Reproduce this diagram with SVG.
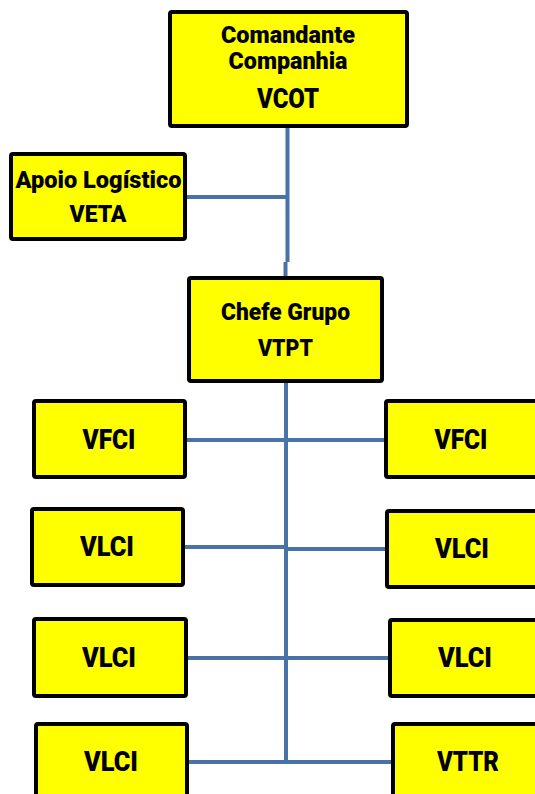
<svg xmlns="http://www.w3.org/2000/svg" width="535" height="794" viewBox="0 0 535 794">
<style>
.box{fill:#FFFF00;stroke:#000;stroke-width:4;}
.t{font-family:Roboto,"Liberation Sans",sans-serif;font-weight:900;fill:#000;text-anchor:middle;}
.s{font-size:23.5px;}
.b{font-size:27px;}
.c{stroke:#4872A8;stroke-width:4;fill:none;}
</style>
<rect width="535" height="794" fill="#fff"/>
<g id="connectors">
<path class="c" d="M287.5 126 V262 M285.5 262 V278 M185 197 H289"/>
<path class="c" d="M286 381 V764"/>
<path class="c" d="M185 440 H386 M183 547 H286 M286 549 H387 M186 658 H390 M188 762 H392"/>
</g>
<g id="vcot"><rect class="box" x="170" y="12" width="237" height="114" rx="2"/>
<text class="t s" x="288" y="43" textLength="134" lengthAdjust="spacingAndGlyphs">Comandante</text><text class="t s" x="288" y="69" textLength="119" lengthAdjust="spacingAndGlyphs">Companhia</text><text class="t b" x="288" y="108" textLength="62" lengthAdjust="spacingAndGlyphs">VCOT</text></g>
<g id="veta"><rect class="box" x="11" y="154" width="174" height="85" rx="2"/>
<text class="t s" x="98.5" y="188" textLength="166" lengthAdjust="spacingAndGlyphs">Apoio Logístico</text><text class="t s" x="98" y="222" textLength="57" lengthAdjust="spacingAndGlyphs">VETA</text></g>
<g id="vtpt"><rect class="box" x="189" y="278" width="193" height="103" rx="2"/>
<text class="t s" x="285.5" y="320" textLength="129" lengthAdjust="spacingAndGlyphs">Chefe Grupo</text><text class="t s" x="285.5" y="356" textLength="55" lengthAdjust="spacingAndGlyphs">VTPT</text></g>
<g id="vfci-l"><rect class="box" x="34" y="401" width="151" height="76" rx="2"/><text class="t b" x="109" y="449" textLength="53" lengthAdjust="spacingAndGlyphs">VFCI</text></g>
<g id="vfci-r"><rect class="box" x="386" y="401" width="160" height="76" rx="2"/><text class="t b" x="461" y="449" textLength="53" lengthAdjust="spacingAndGlyphs">VFCI</text></g>
<g id="vlci-l1"><rect class="box" x="32" y="509" width="151" height="76" rx="2"/><text class="t b" x="107" y="556" textLength="54" lengthAdjust="spacingAndGlyphs">VLCI</text></g>
<g id="vlci-r1"><rect class="box" x="387" y="511" width="160" height="76" rx="2"/><text class="t b" x="462" y="558" textLength="54" lengthAdjust="spacingAndGlyphs">VLCI</text></g>
<g id="vlci-l2"><rect class="box" x="34" y="619" width="152" height="77" rx="2"/><text class="t b" x="109" y="667" textLength="54" lengthAdjust="spacingAndGlyphs">VLCI</text></g>
<g id="vlci-r2"><rect class="box" x="390" y="620" width="160" height="76" rx="2"/><text class="t b" x="465" y="667" textLength="54" lengthAdjust="spacingAndGlyphs">VLCI</text></g>
<g id="vlci-l3"><rect class="box" x="36" y="724" width="151" height="80" rx="2"/><text class="t b" x="111" y="771" textLength="54" lengthAdjust="spacingAndGlyphs">VLCI</text></g>
<g id="vttr"><rect class="box" x="393" y="724" width="160" height="80" rx="2"/><text class="t b" x="468" y="771" textLength="62" lengthAdjust="spacingAndGlyphs">VTTR</text></g>
</svg>
